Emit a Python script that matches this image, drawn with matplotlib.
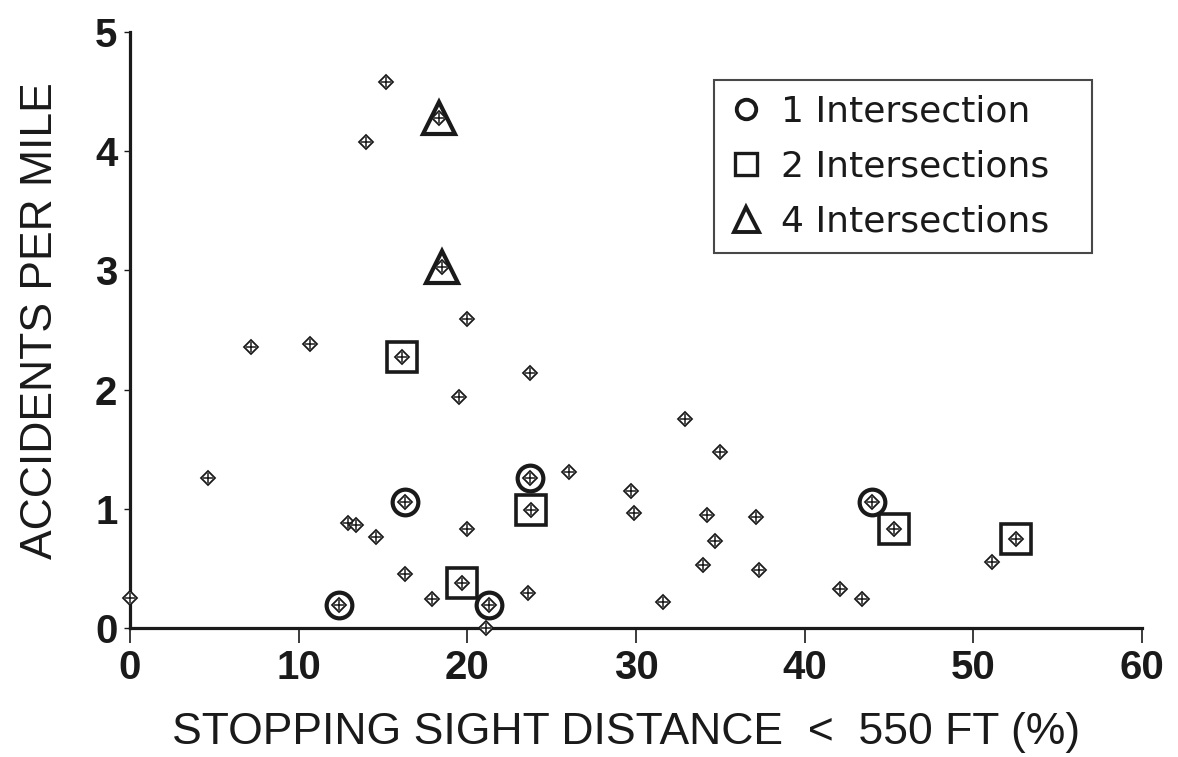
import matplotlib
matplotlib.use("Agg")
import matplotlib.pyplot as plt
from matplotlib.lines import Line2D

plt.rcParams['font.family'] = ['Liberation Sans', 'DejaVu Sans']

# all road sections (small diamond markers)
ssd_pct = [0.0, 4.6, 7.2, 10.7, 12.9, 13.4, 14.6, 14.0, 15.2, 18.3, 18.5, 20.0,
           16.1, 19.5, 23.7, 16.3, 23.7, 23.8, 20.0, 16.3, 17.9, 19.7, 12.4,
           21.3, 21.1, 23.6, 26.0, 32.9, 35.0, 29.7, 29.9, 34.2, 37.1, 34.7,
           34.0, 37.3, 31.6, 42.1, 43.4, 44.0, 45.3, 52.5, 51.1]
acc_per_mile = [0.25, 1.26, 2.36, 2.38, 0.88, 0.86, 0.76, 4.08, 4.58, 4.28, 3.03, 2.59,
                2.27, 1.94, 2.14, 1.06, 1.26, 0.99, 0.83, 0.45, 0.245, 0.38, 0.19,
                0.19, 0.0, 0.29, 1.31, 1.75, 1.48, 1.15, 0.965, 0.95, 0.93, 0.73,
                0.53, 0.49, 0.22, 0.33, 0.24, 1.06, 0.83, 0.75, 0.555]

# sections with 1 intersection
one_x = [12.4, 16.3, 21.3, 23.7, 44.0]
one_y = [0.19, 1.06, 0.19, 1.26, 1.06]
# sections with 2 intersections
two_x = [16.1, 19.7, 23.8, 45.3, 52.5]
two_y = [2.27, 0.38, 0.99, 0.83, 0.75]
# sections with 4 intersections
four_x = [18.3, 18.5]
four_y = [4.28, 3.03]

legend_labels = ["1 Intersection", "2 Intersections", "4 Intersections"]
xticks = [0, 10, 20, 30, 40, 50, 60]
yticks = [0, 1, 2, 3, 4, 5]

fig = plt.figure(figsize=(11.78, 7.57), dpi=100)
ax = fig.add_axes([130/1178, 1-628/757, (1142-130)/1178, (628-32)/757])

c = '#1a1a1a'
ax.plot(ssd_pct, acc_per_mile, linestyle='none', marker='D', markersize=7,
        markerfacecolor='white', markeredgecolor=c, markeredgewidth=1.3, zorder=3,
        clip_on=False)
ax.plot(ssd_pct, acc_per_mile, linestyle='none', marker='+', markersize=7,
        markeredgecolor=c, markeredgewidth=1.1, zorder=4, clip_on=False)

ax.plot(one_x, one_y, linestyle='none', marker='o', markersize=18.5,
        markerfacecolor='none', markeredgecolor=c, markeredgewidth=3.0, zorder=5)
ax.plot(two_x, two_y, linestyle='none', marker='s', markersize=21,
        markerfacecolor='none', markeredgecolor=c, markeredgewidth=2.6, zorder=5)
ax.plot(four_x, four_y, linestyle='none', marker='^', markersize=23,
        markerfacecolor='none', markeredgecolor=c, markeredgewidth=3.0, zorder=5)

ax.set_xlim(0, 60)
ax.set_ylim(0, 5)
ax.set_xticks(xticks)
ax.set_yticks(yticks)
ax.spines['top'].set_visible(False)
ax.spines['right'].set_visible(False)
ax.spines['left'].set_linewidth(2.3)
ax.spines['bottom'].set_linewidth(2.3)
ax.spines['left'].set_color(c)
ax.spines['bottom'].set_color(c)
ax.tick_params(axis='x', direction='out', length=11, width=1.2, colors=c,
               labelsize=29, pad=4)
ax.tick_params(axis='y', direction='out', length=4, width=1.0, colors=c,
               labelsize=29, pad=5)
for lab in ax.get_xticklabels() + ax.get_yticklabels():
    lab.set_fontweight('bold')

ax.set_xlabel("STOPPING SIGHT DISTANCE  <  550 FT (%)", fontsize=32, color=c)
ax.xaxis.set_label_coords(0.490, -0.141)
ax.set_ylabel("ACCIDENTS PER MILE", fontsize=32, color=c)
ax.yaxis.set_label_coords(-0.068, 0.515)

handles = [
    Line2D([], [], linestyle='none', marker='o', markersize=14, markerfacecolor='none',
           markeredgecolor=c, markeredgewidth=2.8),
    Line2D([], [], linestyle='none', marker='s', markersize=16, markerfacecolor='none',
           markeredgecolor=c, markeredgewidth=2.4),
    Line2D([], [], linestyle='none', marker='^', markersize=18, markerfacecolor='none',
           markeredgecolor=c, markeredgewidth=2.8),
]
leg = ax.legend(handles, legend_labels, loc='upper left',
                bbox_to_anchor=(714/1178, 1-80/757-0.01, (1092-714)/1178, 0.01),
                bbox_transform=fig.transFigure, mode='expand',
                prop={'family': 'DejaVu Sans', 'size': 26},
                frameon=True, fancybox=False, edgecolor=c,
                handlelength=1.0, handletextpad=0.45, borderpad=0.4,
                labelspacing=0.58, borderaxespad=0)
leg.get_frame().set_linewidth(1.5)
for t in leg.get_texts():
    t.set_color(c)

fig.savefig("out.png", dpi=100)
